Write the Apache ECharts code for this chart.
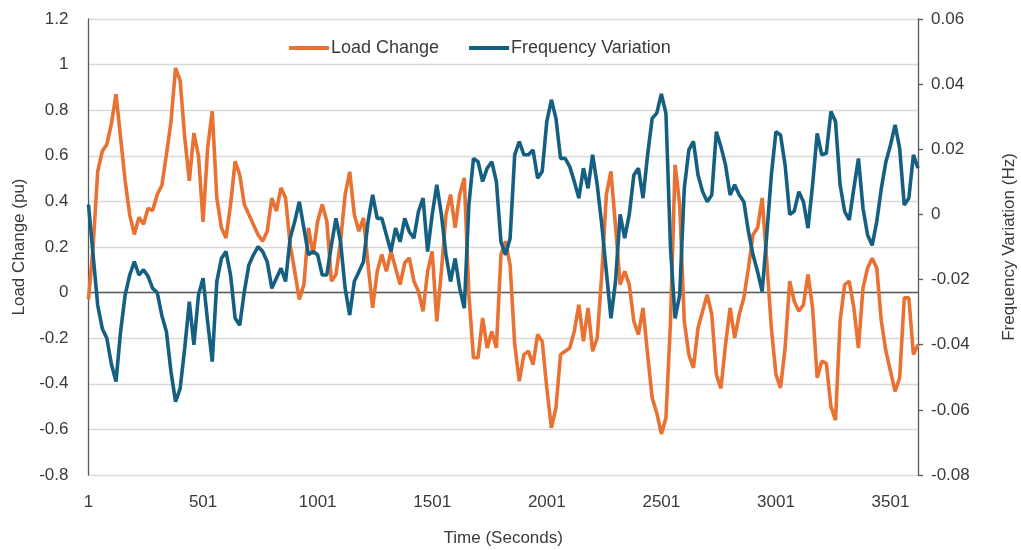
<!DOCTYPE html>
<html>
<head>
<meta charset="utf-8">
<script src="https://cdn.jsdelivr.net/npm/echarts@6/dist/echarts.min.js"></script>
<style>
html,body{margin:0;padding:0;background:#fff;}
#chart{width:1021px;height:550px;}
</style>
</head>
<body>
<div id="chart"></div>
<script>
// Time axis: one sample every 20 seconds, starting at 1 s
const timeStart = 1;
const timeStep = 20;
// Load change (pu)
const loadChange = [
-0.03,0.2,0.53,0.62,0.65,0.74,0.87,0.68,0.49,0.34,
0.255,0.33,0.30,0.37,0.36,0.43,0.47,0.605,0.75,0.985,
0.93,0.68,0.49,0.70,0.60,0.31,0.635,0.795,0.415,0.284,
0.24,0.386,0.576,0.517,0.386,0.342,0.298,0.254,0.225,0.269,
0.415,0.357,0.46,0.415,0.21,0.093,-0.03,0.035,0.284,0.167,
0.313,0.386,0.313,0.05,0.079,0.225,0.43,0.53,0.342,0.269,
0.328,0.123,-0.067,0.093,0.167,0.093,0.18,0.108,0.035,0.13,
0.152,0.05,0.006,-0.082,0.093,0.181,-0.126,0.093,0.342,0.43,
0.284,0.43,0.503,-0.009,-0.286,-0.286,-0.111,-0.243,-0.17,-0.243,
0.167,0.225,0.12,-0.228,-0.389,-0.272,-0.257,-0.316,-0.184,-0.213,
-0.418,-0.593,-0.506,-0.272,-0.257,-0.243,-0.17,-0.053,-0.213,-0.067,
-0.257,-0.199,0.079,0.43,0.532,0.29,0.035,0.093,0.035,-0.126,
-0.184,-0.067,-0.272,-0.462,-0.528,-0.62,-0.55,-0.126,0.561,0.386,
-0.126,-0.272,-0.33,-0.155,-0.082,-0.009,-0.096,-0.36,-0.42,-0.228,
-0.067,-0.199,-0.096,-0.023,0.108,0.254,0.284,0.415,0.137,-0.155,
-0.36,-0.418,-0.243,0.05,-0.038,-0.082,-0.053,0.079,-0.067,-0.374,
-0.301,-0.31,-0.5,-0.56,-0.126,0.035,0.05,-0.067,-0.243,0.02,
0.108,0.15,0.108,-0.126,-0.257,-0.345,-0.433,-0.374,-0.023,-0.023,
-0.272,-0.228
];
// Frequency variation (Hz)
const freqVariation = [
0.003,-0.0124,-0.0278,-0.035,-0.038,-0.046,-0.0513,-0.036,-0.0247,-0.0186,
-0.0145,-0.0186,-0.017,-0.019,-0.0227,-0.024,-0.031,-0.036,-0.0483,-0.0575,
-0.0534,-0.041,-0.0268,-0.040,-0.0247,-0.0196,-0.033,-0.0452,-0.0206,-0.0135,
-0.0114,-0.0186,-0.0319,-0.034,-0.0237,-0.0155,-0.0124,-0.0099,-0.0114,-0.0145,
-0.0227,-0.0196,-0.0165,-0.0206,-0.0073,-0.0022,0.0039,-0.0042,-0.0124,-0.0114,
-0.0124,-0.0186,-0.0186,-0.0094,-0.0012,-0.0084,-0.0227,-0.0309,-0.0206,-0.0176,
-0.0145,-0.0022,0.006,-0.0012,-0.0012,-0.0063,-0.0114,-0.0042,-0.0084,-0.0012,
-0.0053,-0.0073,0.0009,0.005,-0.0114,0.0,0.0091,0.0,-0.0124,-0.0206,
-0.0135,-0.0227,-0.0288,0.0029,0.0172,0.0162,0.0101,0.0142,0.0162,0.0101,
-0.0084,-0.0124,-0.0073,0.0183,0.0224,0.0183,0.0183,0.0198,0.0111,0.0132,
0.0285,0.0352,0.0295,0.0172,0.0172,0.0147,0.0101,0.005,0.0142,0.008,
0.0183,0.0091,-0.0032,-0.0176,-0.0319,-0.0206,0.0,-0.0073,0.0,0.0121,
0.0142,0.005,0.0183,0.0295,0.0311,0.037,0.031,-0.0104,-0.0319,-0.0247,
0.008,0.0198,0.0224,0.0121,0.007,0.0039,0.006,0.0254,0.0208,0.0152,
0.006,0.0091,0.006,0.0039,-0.0053,-0.0124,-0.0176,-0.0237,-0.0063,0.0121,
0.0254,0.0244,0.0152,0.0,0.001,0.007,0.0039,-0.0042,0.0091,0.0249,
0.0183,0.0188,0.0316,0.0285,0.0091,0.0009,-0.0017,0.008,0.0172,0.0019,
-0.0063,-0.0095,-0.0022,0.008,0.0162,0.0213,0.0275,0.0203,0.0029,0.005,
0.0183,0.0142
];
const timeCategories = loadChange.map((_, i) => String(timeStart + i * timeStep));
const xTickEvery = 500; // label every 500 s: 1, 501, 1001, ...

const FONT = '"Liberation Sans", Arial, sans-serif';
const TXT = '#3a3a3a';
const AX = '#595959';

const chart = echarts.init(document.getElementById('chart'), null, {renderer: 'canvas'});
chart.setOption({
  animation: false,
  backgroundColor: '#ffffff',
  textStyle: {fontFamily: FONT},
  legend: {
    top: 34,
    left: 284,
    itemWidth: 40,
    itemHeight: 4,
    itemGap: 30,
    icon: 'rect',
    textStyle: {fontFamily: FONT, fontSize: 18, color: TXT, padding: [0, 0, 0, -3]},
    data: ['Load Change', 'Frequency Variation']
  },
  grid: {left: 88.5, right: 103, top: 19, bottom: 75, containLabel: false, outerBoundsMode: 'none'},
  xAxis: {
    type: 'category',
    data: timeCategories,
    boundaryGap: false,
    name: 'Time (Seconds)',
    nameLocation: 'middle',
    nameGap: 55,
    nameTextStyle: {fontFamily: FONT, fontSize: 17, color: TXT},
    axisLine: {show: true, lineStyle: {color: AX, width: 1.3}},
    axisTick: {show: false},
    axisLabel: {
      interval: xTickEvery / timeStep - 1,
      margin: 19,
      fontFamily: FONT, fontSize: 17, color: TXT
    },
    splitLine: {show: false}
  },
  yAxis: [
    {
      type: 'value',
      min: -0.8, max: 1.2, interval: 0.2,
      name: 'Load Change (pu)',
      nameLocation: 'middle',
      nameGap: 61,
      nameRotate: 90,
      nameTextStyle: {fontFamily: FONT, fontSize: 17, color: TXT},
      axisLine: {show: true, lineStyle: {color: AX, width: 1.3}},
      axisTick: {show: false},
      axisLabel: {
        margin: 20,
        fontFamily: FONT, fontSize: 17, color: TXT,
        formatter: v => String(Math.round(v * 10) / 10)
      },
      splitLine: {show: true, lineStyle: {color: '#d9d9d9', width: 1.3}}
    },
    {
      type: 'value',
      min: -0.08, max: 0.06, interval: 0.02,
      position: 'right',
      name: 'Frequency Variation (Hz)',
      nameLocation: 'middle',
      nameGap: 83,
      nameRotate: 90,
      nameTextStyle: {fontFamily: FONT, fontSize: 17, color: TXT},
      axisLine: {show: true, lineStyle: {color: AX, width: 1.3}},
      axisTick: {show: true, inside: false, length: 5, lineStyle: {color: AX, width: 1.3}},
      axisLabel: {
        margin: 13,
        fontFamily: FONT, fontSize: 17, color: TXT,
        formatter: v => String(Math.round(v * 100) / 100)
      },
      splitLine: {show: false}
    }
  ],
  series: [
    {
      name: 'Load Change',
      type: 'line',
      yAxisIndex: 0,
      data: loadChange,
      showSymbol: false,
      symbol: 'none',
      color: '#E97132',
      lineStyle: {color: '#E97132', width: 3.6},
      z: 2
    },
    {
      name: 'Frequency Variation',
      type: 'line',
      yAxisIndex: 1,
      data: freqVariation,
      showSymbol: false,
      symbol: 'none',
      color: '#156082',
      lineStyle: {color: '#156082', width: 3.6},
      z: 3
    }
  ]
});
</script>
</body>
</html>
